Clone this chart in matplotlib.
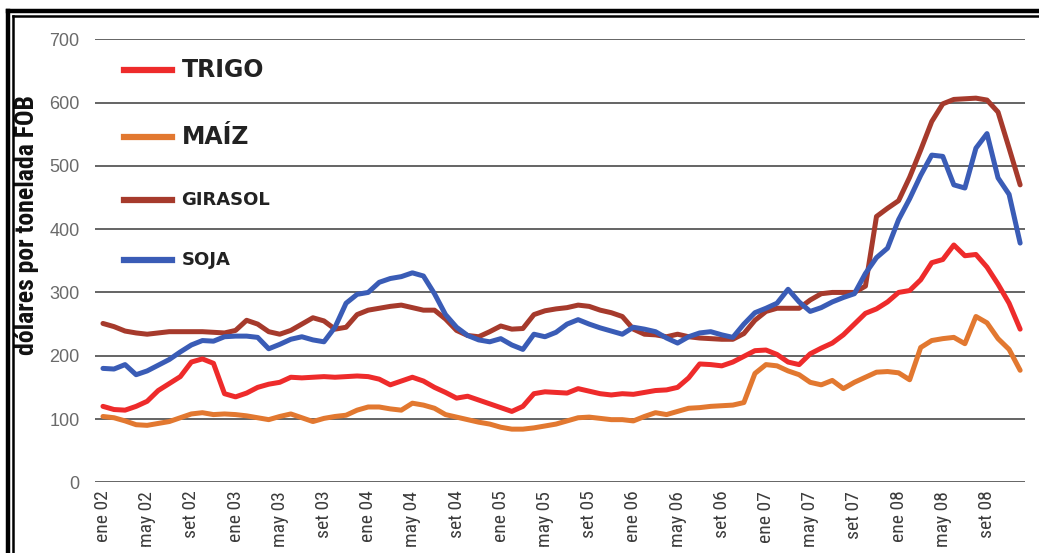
import os
import numpy as np
import matplotlib
matplotlib.use("Agg")
from matplotlib import pyplot as plt
from matplotlib import font_manager
from matplotlib.font_manager import FontProperties
from matplotlib.lines import Line2D

# precios FOB mensuales, ene 02 .. dic 08 (dolares por tonelada)
trigo = [120, 115, 114, 120, 128, 145, 156, 167, 190, 195,
         188, 140, 135, 141, 150, 155, 158, 166, 165, 166,
         167, 166, 167, 168, 167, 163, 154, 160, 166, 160,
         150, 142, 133, 136, 130, 124, 118, 112, 120, 140,
         143, 142, 141, 148, 144, 140, 138, 140, 139, 142,
         145, 146, 150, 165, 187, 186, 184, 190, 199, 208,
         209, 202, 190, 186, 203, 212, 220, 233, 250, 267,
         274, 285, 300, 303, 320, 347, 352, 375, 358, 360,
         340, 313, 283, 242]

maiz = [104, 102, 97, 91, 90, 93, 96, 102, 108, 110,
        107, 108, 107, 105, 102, 99, 104, 108, 102, 96,
        101, 104, 106, 114, 119, 119, 116, 114, 125, 122,
        117, 107, 103, 99, 95, 92, 87, 84, 84, 86,
        89, 92, 97, 102, 103, 101, 99, 99, 97, 104,
        110, 107, 112, 117, 118, 120, 121, 122, 126, 172,
        186, 184, 176, 170, 158, 154, 161, 148, 158, 166,
        174, 175, 173, 162, 213, 224, 227, 229, 219, 262,
        252, 227, 210, 177]

girasol = [251, 246, 239, 236, 234, 236, 238, 238, 238, 238,
           237, 236, 240, 256, 250, 238, 234, 240, 250, 260,
           255, 242, 245, 265, 272, 275, 278, 280, 276, 272,
           272, 258, 240, 232, 230, 238, 247, 242, 243, 265,
           271, 274, 276, 280, 278, 272, 268, 262, 242, 234,
           233, 230, 234, 230, 228, 227, 226, 226, 235, 256,
           270, 275, 275, 275, 288, 298, 300, 300, 300, 310,
           420, 433, 445, 482, 525, 570, 598, 605, 606, 607,
           604, 585, 528, 470]

soja = [180, 179, 186, 170, 176, 185, 194, 206, 217, 224,
        223, 230, 231, 231, 229, 211, 218, 226, 230, 225,
        222, 245, 283, 297, 300, 316, 322, 325, 331, 326,
        298, 265, 245, 232, 225, 222, 227, 217, 210, 234,
        230, 237, 250, 257, 250, 244, 239, 234, 245, 242,
        238, 228, 220, 230, 236, 238, 233, 229, 250, 268,
        275, 283, 305, 285, 270, 276, 285, 292, 298, 330,
        355, 370, 415, 448, 485, 517, 515, 470, 465, 528,
        551, 481, 455, 378]

etiquetas = ["ene 02", "may 02", "set 02", "ene 03", "may 03", "set 03",
             "ene 04", "may 04", "set 04", "ene 05", "may 05", "set 05",
             "ene 06", "may 06", "set 06", "ene 07", "may 07", "set 07",
             "ene 08", "may 08", "set 08"]

series = [("TRIGO", trigo, "#ee2b2b"),
          ("MAÍZ", maiz, "#e27830"),
          ("GIRASOL", girasol, "#a63a2c"),
          ("SOJA", soja, "#3a5cb6")]


def fuente_angosta(negrita):
    # busca una tipografia angosta instalada, si no hay queda DejaVu
    prefs = ["liberationsansnarrow", "robotocondensed", "opensanscondensed",
             "opensans_condensed", "dejavusanscondensed"]
    archivos = [f.fname for f in font_manager.fontManager.ttflist]
    for p in prefs:
        for fn in archivos:
            base = os.path.basename(fn).lower().replace(" ", "").replace("-", "")
            if p not in base or "italic" in base or "oblique" in base:
                continue
            if ("bold" in base) == negrita:
                return fn
    return None


f_reg = fuente_angosta(False)
f_neg = fuente_angosta(True)

W, H = 1039, 553
fig = plt.figure(figsize=(W / 100, H / 100), dpi=100)
fig.patch.set_facecolor("white")
ax = fig.add_axes([95 / W, 1 - 482.3 / H, 930 / W, 443 / H])

meses = np.arange(len(trigo))
for nombre, valores, color in series:
    ax.plot(meses, valores, color=color, lw=3.6, solid_capstyle="round",
            solid_joinstyle="round", zorder=3)

ax.set_xlim(-0.72, 83.44)
ax.set_ylim(0, 700)
ax.set_yticks(range(0, 701, 100))
ax.yaxis.grid(True, color="#3a3a3a", lw=1.1)
ax.set_axisbelow(True)
for s in ax.spines.values():
    s.set_visible(False)
ax.tick_params(axis="both", length=0)
ax.tick_params(axis="y", pad=11, labelsize=13, labelcolor="#6a6a6a")
for t in ax.get_yticklabels():
    t.set_fontfamily("Liberation Sans")

ax.set_xticks(np.arange(0, len(trigo), 4))
ax.set_xticklabels(etiquetas, rotation=90, color="#3c3c3c", va="top")
if f_reg:
    fp_ticks = FontProperties(fname=f_reg, size=14)
else:
    fp_ticks = FontProperties(family="DejaVu Sans", size=10.5)
for t in ax.get_xticklabels():
    t.set_fontproperties(fp_ticks)
ax.tick_params(axis="x", pad=6)

if f_neg:
    fp_label = FontProperties(fname=f_neg, size=18.5)
else:
    fp_label = FontProperties(family="DejaVu Sans", weight="bold", size=13)
ax.set_ylabel("dólares por tonelada FOB", fontproperties=fp_label, color="#111111")
ax.yaxis.set_label_coords(-0.060, 0.58)

# leyenda a mano: muestras de linea y textos con tamanos distintos
filas = [(0.930, 17), (0.779, 17), (0.637, 13), (0.502, 13)]
for (nombre, valores, color), (yy, fs) in zip(series, filas):
    ax.add_line(Line2D([0.031, 0.083], [yy, yy], transform=ax.transAxes,
                       color=color, lw=4.5, zorder=4))
    ax.text(0.093, yy, nombre, transform=ax.transAxes, fontsize=fs,
            fontweight="bold", color="#222222", va="center", ha="left")


# doble marco negro arriba y a la izquierda
def px_x(x):
    return x / W


def px_y(y):
    return 1 - y / H


fig.add_artist(Line2D([px_x(8), 1.0], [px_y(11), px_y(11)], color="black", lw=3.2))
fig.add_artist(Line2D([px_x(8), px_x(8)], [px_y(11), 0.0], color="black", lw=3.2))
fig.add_artist(Line2D([px_x(13.3), 1.0], [px_y(16), px_y(16)], color="black", lw=1.8))
fig.add_artist(Line2D([px_x(13.3), px_x(13.3)], [px_y(16), 0.0], color="black", lw=1.8))

fig.savefig("out.png", dpi=100, facecolor="white")
